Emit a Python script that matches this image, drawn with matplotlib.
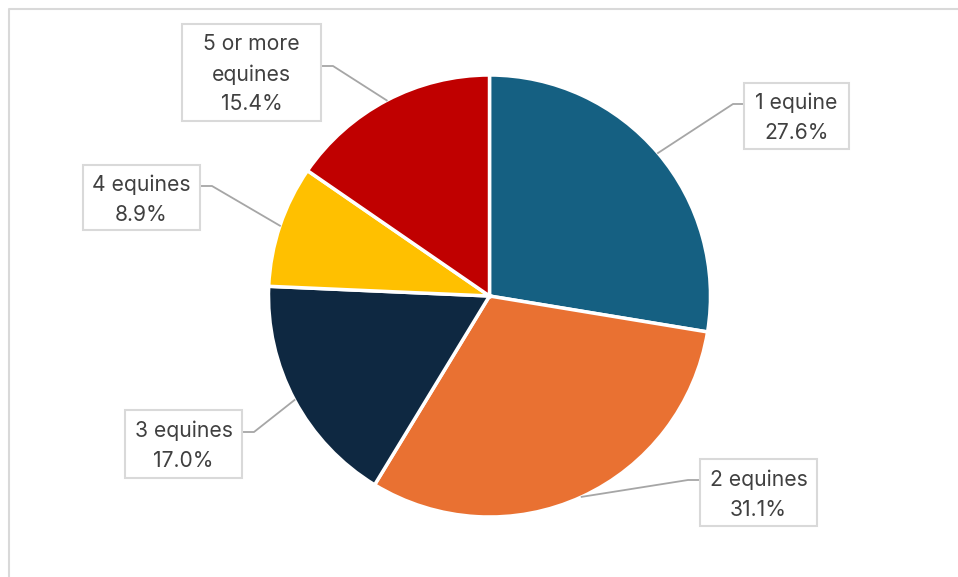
import numpy as np
import matplotlib.pyplot as plt
from matplotlib.patches import Rectangle

# data
labels = ['1 equine', '2 equines', '3 equines', '4 equines', '5 or more\nequines']
shares = [27.6, 31.1, 17.0, 8.9, 15.4]
colors = ['#156082', '#E97132', '#0E2841', '#FFC000', '#C00000']

# layout (pixel coordinates, y from top)
W, H = 958, 577
cx, cy, R = 489.5, 296, 221
boxes = [(744, 83, 849, 149), (700, 459, 817, 526), (125, 410, 242, 478),
         (83, 165, 200, 230), (182, 24, 321, 121)]
elbows = [(733, 104), (688, 480), (254, 432), (212, 186), (333, 66)]
box_edges = [(744, 104), (700, 480), (242, 432), (200, 186), (321, 66)]

plt.rcParams['font.family'] = ['Inter', 'DejaVu Sans']

fig = plt.figure(figsize=(W / 100, H / 100), dpi=100)
ax = fig.add_axes([0, 0, 1, 1])

# frame (top and left visible)
ax.plot([9.5, 9.5, W], [0, H - 8.5, H - 8.5], color='#D9D9D9', lw=1.5, solid_capstyle='butt')

ax.pie(shares, colors=colors, startangle=90, counterclock=False,
       center=(cx, H - cy), radius=R, frame=True,
       wedgeprops=dict(edgecolor='white', linewidth=2.5))
ax.set_xlim(0, W)
ax.set_ylim(0, H)
ax.set_aspect('equal')
ax.axis('off')

cum = np.cumsum([0] + shares[:-1])
for i, (lab, s) in enumerate(zip(labels, shares)):
    mid = (cum[i] + s / 2) / sum(shares) * 360
    px = cx + R * np.sin(np.radians(mid))
    py = cy - R * np.cos(np.radians(mid))
    ex, ey = elbows[i]
    bx, by = box_edges[i]
    ax.plot([px, ex, bx], [H - py, H - ey, H - by], color='#A6A6A6', lw=1.3, zorder=3)
    x0, y0, x1, y1 = boxes[i]
    ax.add_patch(Rectangle((x0, H - y1), x1 - x0, y1 - y0, fc='white', ec='#D9D9D9',
                           lw=1.5, zorder=4))
    ax.text((x0 + x1) / 2, H - (y0 + y1) / 2 - 2, f'{lab}\n{s:.1f}%', ha='center', va='center',
            fontsize=15.2, color='#404040', linespacing=1.6, zorder=5)

fig.savefig('out.png', dpi=100)
